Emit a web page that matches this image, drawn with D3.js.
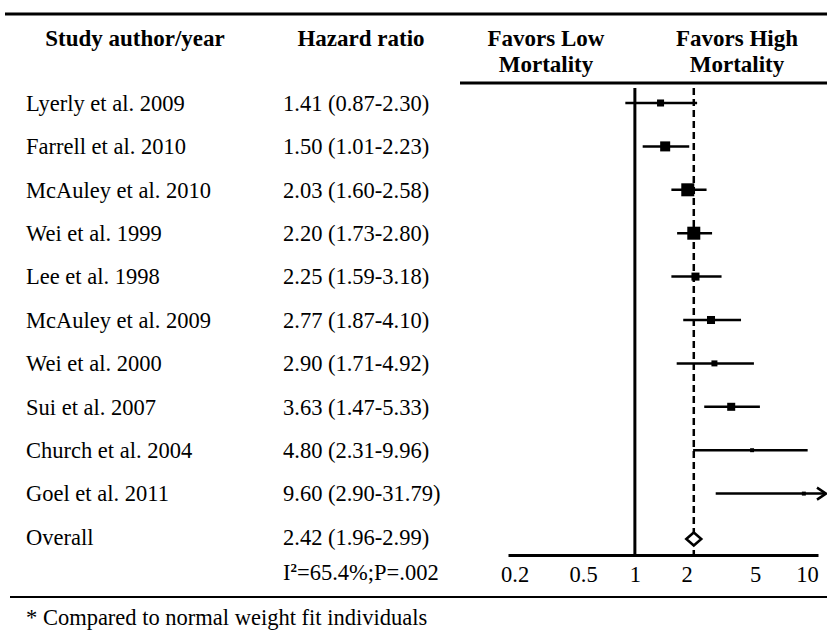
<!DOCTYPE html>
<html>
<head>
<meta charset="utf-8">
<script src="https://cdn.jsdelivr.net/npm/d3@7"></script>
<style>
  body { margin: 0; background: #fff; }
  svg text { font-family: "Liberation Serif", "Times New Roman", serif; fill: #000; }
</style>
</head>
<body>
<div id="chart"></div>
<script>
var width = 827, height = 635;

// study data (as printed in the table)
var studies = ["Lyerly et al. 2009", "Farrell et al. 2010", "McAuley et al. 2010", "Wei et al. 1999",
    "Lee et al. 1998", "McAuley et al. 2009", "Wei et al. 2000", "Sui et al. 2007",
    "Church et al. 2004", "Goel et al. 2011"];
var hr    = [1.41, 1.50, 2.03, 2.20, 2.25, 2.77, 2.90, 3.63, 4.80, 9.60];
var lower = [0.87, 1.01, 1.60, 1.73, 1.59, 1.87, 1.71, 1.47, 2.31, 2.90];
var upper = [2.30, 2.23, 2.58, 2.80, 3.18, 4.10, 4.92, 5.33, 9.96, 31.79];
// whisker ends as actually drawn in the figure (a few differ from the table)
var drawnLower = [0.88, 1.11, 1.63, 1.76, 1.63, 1.91, 1.75, 2.53, 2.18, 2.95];
var drawnUpper = [2.30, 2.07, 2.61, 2.81, 3.19, 4.14, 4.92, 5.33, 10.1, 31.79];
// relative weight
var weights = [6.6, 13.4, 22.6, 22.6, 8.6, 8.6, 4.8, 8.6, 2.1, 2.1];

var overall = { label: "Overall", hr: 2.42, lower: 1.96, upper: 2.99 };
// the figure plots the pooled marker / dashed line at about this value
var overallPlotted = 2.2;
var heterogeneity = { i2: "65.4%", p: ".002" };

var tickValues = [0.2, 0.5, 1, 2, 5, 10];
var headers = [["Study author/year"], ["Hazard ratio"], ["Favors Low", "Mortality"], ["Favors High", "Mortality"]];
var footnote = "* Compared to normal weight fit individuals";

var svg = d3.select("#chart").append("svg")
    .attr("width", width)
    .attr("height", height);

var x = d3.scaleLog().domain([0.183, 11.6]).range([508, 818]);
var y = d3.scaleLinear().domain([0, 10]).range([103, 537]);
var size = d3.scaleSqrt().domain([0, d3.max(weights)]).range([0, 13]);
var f2 = d3.format(".2f");

var axisY = 555, plotTop = 88, fs = "22.5px";

// rules
svg.append("line").attr("x1", 5).attr("x2", width).attr("y1", 14).attr("y2", 14)
    .attr("stroke", "#000").attr("stroke-width", 3);
svg.append("line").attr("x1", 460).attr("x2", width).attr("y1", 83).attr("y2", 83)
    .attr("stroke", "#000").attr("stroke-width", 3);
svg.append("line").attr("x1", 10).attr("x2", width).attr("y1", 597).attr("y2", 597)
    .attr("stroke", "#000").attr("stroke-width", 2);

// headers
var headerX = [135, 361, 546, 737];
headers.forEach(function (lines, i) {
    var t = svg.append("text")
        .attr("x", headerX[i]).attr("y", 46)
        .attr("text-anchor", "middle")
        .style("font-weight", "bold").style("font-size", "23px");
    lines.forEach(function (l, j) {
        t.append("tspan").attr("x", headerX[i]).attr("dy", j ? 26 : 0).text(l);
    });
});

// left columns
var rows = studies.map(function (s, i) {
    return { name: s, hr: hr[i], lo: lower[i], hi: upper[i], dlo: drawnLower[i], dhi: drawnUpper[i], w: weights[i], i: i };
});

svg.selectAll(".name").data(rows.concat([{ name: overall.label, i: 10 }])).enter()
    .append("text").attr("class", "name")
    .attr("x", 26).attr("y", function (d) { return y(d.i); }).attr("dy", "0.35em")
    .style("font-size", fs)
    .text(function (d) { return d.name; });

var hrRows = rows.map(function (d) { return { i: d.i, hr: d.hr, lo: d.lo, hi: d.hi }; })
    .concat([{ i: 10, hr: overall.hr, lo: overall.lower, hi: overall.upper }]);
svg.selectAll(".hr").data(hrRows).enter()
    .append("text").attr("class", "hr")
    .attr("x", 283).attr("y", function (d) { return y(d.i); }).attr("dy", "0.35em")
    .style("font-size", fs)
    .text(function (d) { return f2(d.hr) + " (" + f2(d.lo) + "-" + f2(d.hi) + ")"; });

var het = svg.append("text").attr("x", 283).attr("y", 580).style("font-size", fs);
het.append("tspan").text("I");
het.append("tspan").attr("dy", -8).style("font-size", "13px").style("font-weight", "bold").text("2");
het.append("tspan").attr("dy", 8).text("=" + heterogeneity.i2 + ";P=" + heterogeneity.p);

svg.append("text").attr("x", 26).attr("y", 625).style("font-size", fs).text(footnote);

// axis
var axis = svg.append("g")
    .attr("transform", "translate(0," + axisY + ")")
    .call(d3.axisBottom(x).tickValues(tickValues).tickSize(0).tickPadding(11)
        .tickFormat(function (d) { return String(d); }));
axis.select(".domain").attr("stroke", "#000").attr("stroke-width", 3);
axis.selectAll("text").style("font-size", fs)
    .style("font-family", "'Liberation Serif', 'Times New Roman', serif");

// null line and pooled line
svg.append("line").attr("x1", x(1)).attr("x2", x(1)).attr("y1", plotTop).attr("y2", axisY)
    .attr("stroke", "#000").attr("stroke-width", 3);
svg.append("line").attr("x1", x(overallPlotted)).attr("x2", x(overallPlotted))
    .attr("y1", plotTop).attr("y2", axisY)
    .attr("stroke", "#000").attr("stroke-width", 2.5).attr("stroke-dasharray", "7,4");

// confidence intervals
var clipped = function (d) { return d.dhi > x.domain()[1]; };
var ci = svg.selectAll(".ci").data(rows).enter().append("g").attr("class", "ci");
ci.append("line")
    .attr("x1", function (d) { return x(d.dlo); })
    .attr("x2", function (d) { return clipped(d) ? width - 2 : x(d.dhi); })
    .attr("y1", function (d) { return y(d.i); })
    .attr("y2", function (d) { return y(d.i); })
    .attr("stroke", "#000").attr("stroke-width", 2.5);
ci.filter(clipped)
    .append("path")
    .attr("d", function (d) {
        var yy = y(d.i), tip = width - 1;
        return "M" + (tip - 9) + "," + (yy - 6) + "L" + tip + "," + yy + "L" + (tip - 9) + "," + (yy + 6);
    })
    .attr("fill", "none").attr("stroke", "#000").attr("stroke-width", 2.5);
ci.append("rect")
    .attr("x", function (d) { return x(d.hr) - size(d.w) / 2; })
    .attr("y", function (d) { return y(d.i) - size(d.w) / 2; })
    .attr("width", function (d) { return size(d.w); })
    .attr("height", function (d) { return size(d.w); })
    .attr("fill", "#000");

// pooled diamond
var dx = x(overallPlotted), dy = y(10) + 2;
svg.append("path")
    .attr("d", "M" + (dx - 7.5) + "," + dy + "L" + dx + "," + (dy - 6.5) + "L" + (dx + 7.5) + "," + dy + "L" + dx + "," + (dy + 6.5) + "Z")
    .attr("fill", "#fff").attr("stroke", "#000").attr("stroke-width", 2.5);
</script>
</body>
</html>
